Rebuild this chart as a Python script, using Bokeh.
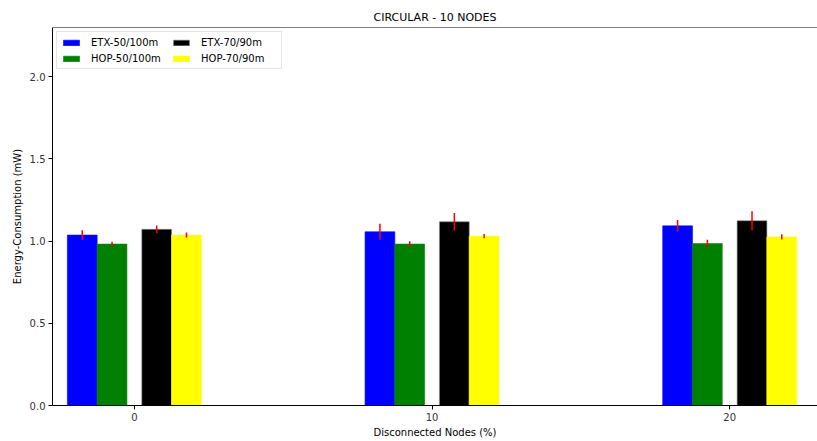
from bokeh.plotting import figure
from bokeh.models import ColumnDataSource, Span, Legend, LegendItem, FixedTicker, Range1d
from bokeh.embed import file_html
from bokeh.resources import INLINE

groups = [0, 10, 20]
tick_labels = ["0", "10", "20"]
series_names = ["ETX-50/100m", "HOP-50/100m", "ETX-70/90m", "HOP-70/90m"]
series_colors = ["blue", "green", "black", "yellow"]
offsets = [-1.75, -0.75, 0.75, 1.75]

etx_50_100 = [1.037, 1.057, 1.093]
etx_50_100_err = [0.030, 0.049, 0.035]
hop_50_100 = [0.982, 0.982, 0.985]
hop_50_100_err = [0.015, 0.018, 0.024]
etx_70_90 = [1.072, 1.118, 1.124]
etx_70_90_err = [0.023, 0.054, 0.058]
hop_70_90 = [1.037, 1.030, 1.026]
hop_70_90_err = [0.015, 0.013, 0.016]

values = [etx_50_100, hop_50_100, etx_70_90, hop_70_90]
errors = [etx_50_100_err, hop_50_100_err, etx_70_90_err, hop_70_90_err]

FONT = "DejaVu Sans"

p = figure(width=817, height=441, output_backend="svg", toolbar_location=None,
           x_range=Range1d(-2.75, 22.95), y_range=Range1d(0, 2.3),
           min_border_left=52, min_border_right=0, min_border_bottom=36, min_border_top=27,
           title="CIRCULAR - 10 NODES")
p.title.align = "center"
p.title.text_font = FONT
p.title.text_font_size = "11px"
p.title.text_font_style = "normal"
p.title.text_color = "black"
p.title.standoff = 7

p.outline_line_color = None
p.xgrid.visible = False
p.ygrid.visible = False

items = []
for name, color, off, vals, errs in zip(series_names, series_colors, offsets, values, errors):
    xs = [g + off for g in groups]
    src = ColumnDataSource(dict(x=xs, top=vals,
                                lo=[v - e for v, e in zip(vals, errs)],
                                hi=[v + e for v, e in zip(vals, errs)]))
    line_col = "#888888" if color == "black" else color
    r = p.vbar(x="x", top="top", width=1.0, bottom=0, source=src,
               fill_color=color, line_color=line_col, line_width=0.6)
    p.segment(x0="x", y0="lo", x1="x", y1="hi", source=src, line_color="red", line_width=1.5)
    items.append(LegendItem(label=name, renderers=[r]))

legend = Legend(items=items, location="top_left", ncols=2)
legend.label_text_font = FONT
legend.label_text_font_size = "10px"
legend.glyph_width = 20
legend.glyph_height = 7
legend.label_standoff = 10
legend.label_width = 76
legend.spacing = 4
legend.padding = 4
legend.margin = 4
legend.border_line_color = "#cccccc"
legend.border_line_width = 1
legend.label_height = 12
legend.label_text_color = "black"
p.add_layout(legend)

top_line = Span(location=2.3, dimension="width", line_color="black", line_width=1)
p.add_layout(top_line)

p.xaxis.ticker = FixedTicker(ticks=groups)
p.xaxis.major_label_overrides = {g: t for g, t in zip(groups, tick_labels)}
p.xaxis.axis_label = "Disconnected Nodes (%)"
p.yaxis.axis_label = "Energy-Consumption (mW)"
p.yaxis.ticker = FixedTicker(ticks=[0.0, 0.5, 1.0, 1.5, 2.0])
p.yaxis.major_label_overrides = {0.0: "0.0", 0.5: "0.5", 1.0: "1.0", 1.5: "1.5", 2.0: "2.0"}
for ax in (p.xaxis, p.yaxis):
    ax.axis_label_text_font = FONT
    ax.axis_label_text_font_size = "10px"
    ax.axis_label_text_font_style = "normal"
    ax.major_label_text_font = FONT
    ax.major_label_text_font_size = "10px"
    ax.minor_tick_line_color = None
    ax.major_tick_out = 4
    ax.major_tick_in = 0
    ax.major_label_standoff = 3
    ax.axis_line_color = "black"
    ax.major_tick_line_color = "black"
    ax.major_label_text_color = "#333333"
    ax.axis_label_text_color = "black"
p.xaxis.axis_label_standoff = 3
p.yaxis.axis_label_standoff = 4

open("out.html", "w").write(file_html(p, INLINE))
